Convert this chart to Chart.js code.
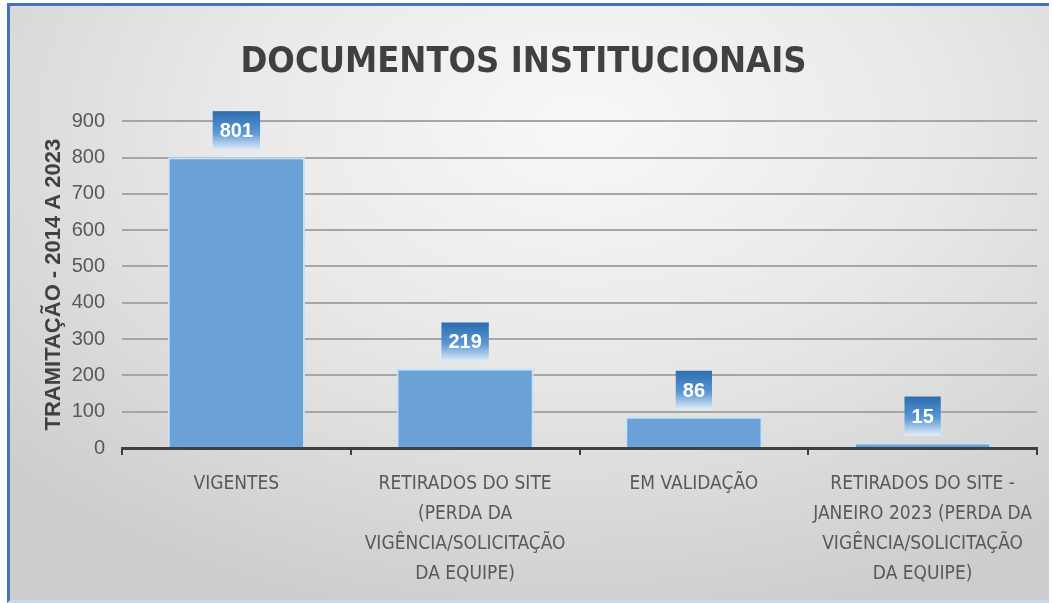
<!DOCTYPE html>
<html>
<head>
<meta charset="utf-8">
<script src="https://cdn.jsdelivr.net/npm/chart.js@4"></script>
<style>
  html, body { margin: 0; padding: 0; width: 1052px; height: 603px; overflow: hidden; background: #ffffff; }
  #frame {
    position: absolute; left: 7px; top: 3px; width: 1039px; height: 594px;
    border-top: 3px solid #4472c4; border-left: 3px solid #4472c4;
    border-bottom: 3px solid #c9d9ee;
    background: radial-gradient(ellipse 75% 85% at 55% 20%, #f8f8f8 0%, #e9e9e9 45%, #cdcdcd 100%);
  }
  #wrap { position: absolute; left: 0; top: 0; width: 1052px; height: 603px; }
</style>
</head>
<body>
<div id="frame"></div>
<div id="wrap"><canvas id="docs" width="1052" height="603"></canvas></div>
<script>
// categorias (eixo x) e valores
var categorias = [
  ['VIGENTES'],
  ['RETIRADOS DO SITE', '(PERDA DA', 'VIGÊNCIA/SOLICITAÇÃO', 'DA EQUIPE)'],
  ['EM VALIDAÇÃO'],
  ['RETIRADOS DO SITE -', 'JANEIRO 2023 (PERDA DA', 'VIGÊNCIA/SOLICITAÇÃO', 'DA EQUIPE)']
];
var valores = [801, 219, 86, 15];
var eixoY = { min: 0, max: 900, passo: 100 };

var narrow = '"DejaVu Sans Condensed", "DejaVu Sans", sans-serif';
var wide = '"Liberation Sans", Arial, sans-serif';

// rótulos de dados (caixa azul com degradê)
var rotulos = {
  id: 'rotulos',
  afterDatasetsDraw(chart) {
    var ctx = chart.ctx;
    var meta = chart.getDatasetMeta(0);
    ctx.save();
    ctx.font = 'bold 20px ' + wide;
    meta.data.forEach(function (bar, i) {
      var txt = String(valores[i]);
      var w = ctx.measureText(txt).width + 14;
      var h = 39;
      var bottom = bar.y - 7;
      var top = bottom - h;
      var left = bar.x - w / 2;
      var g = ctx.createLinearGradient(0, top, 0, bottom);
      g.addColorStop(0, '#2d6cb0');
      g.addColorStop(0.55, '#5a97d3');
      g.addColorStop(1, '#e3edf8');
      ctx.fillStyle = g;
      ctx.fillRect(left, top, w, h);
      ctx.fillStyle = '#ffffff';
      ctx.textAlign = 'center';
      ctx.textBaseline = 'middle';
      ctx.fillText(txt, bar.x, top + h / 2 + 1);
    });
    ctx.restore();
  }
};

new Chart(document.getElementById('docs'), {
  type: 'bar',
  data: {
    labels: categorias,
    datasets: [{
      data: valores,
      backgroundColor: '#6aa2d8',
      borderColor: 'rgba(200,225,248,0.95)',
      borderWidth: 2,
      categoryPercentage: 1,
      barPercentage: 0.6
    }]
  },
  options: {
    responsive: false,
    animation: false,
    layout: { padding: { left: 10, right: 15, top: 6, bottom: 0 } },
    plugins: {
      legend: { display: false },
      tooltip: { enabled: false },
      title: {
        display: true,
        text: 'DOCUMENTOS INSTITUCIONAIS',
        color: '#404040',
        font: { family: narrow, size: 36, weight: 'bold' },
        padding: { top: 35, bottom: 37 }
      }
    },
    scales: {
      x: {
        grid: { display: true, drawOnChartArea: false, drawTicks: true, tickLength: 7, color: '#404040', lineWidth: 2, offset: true },
        border: { display: true, color: '#404040', width: 3 },
        ticks: { color: '#595959', font: { family: narrow, size: 19, lineHeight: 1.58 }, padding: 14, maxRotation: 0, autoSkip: false },
        afterFit: function (s) { s.height = 155; }
      },
      y: {
        min: eixoY.min,
        max: eixoY.max,
        ticks: { stepSize: eixoY.passo, color: '#595959', font: { family: wide, size: 20 }, padding: 17 },
        grid: { color: '#a6a6a6', lineWidth: 2, drawTicks: false },
        border: { display: false },
        title: {
          display: true,
          text: 'TRAMITAÇÃO - 2014 A 2023',
          color: '#404040',
          font: { family: wide, size: 22, weight: 'bold' },
          padding: { top: 31, bottom: 0 }
        },
        afterFit: function (s) { s.width = 112; }
      }
    }
  },
  plugins: [rotulos]
});
</script>
</body>
</html>
